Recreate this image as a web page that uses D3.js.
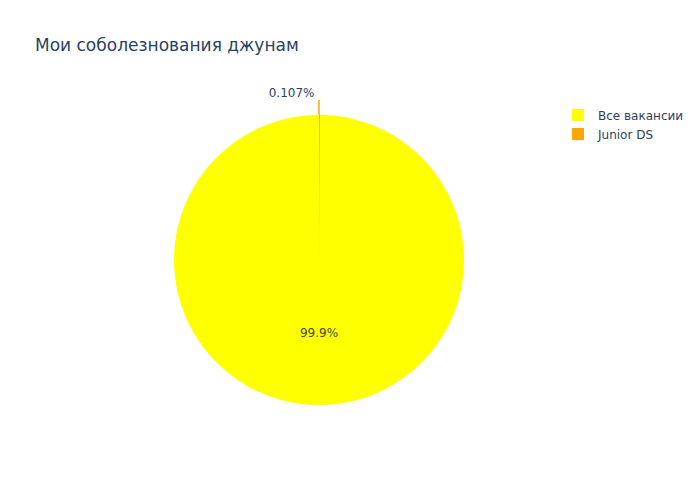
<!DOCTYPE html>
<html><head><meta charset="utf-8">
<script src="https://cdn.jsdelivr.net/npm/d3@7"></script>
<style>body{margin:0;background:#fff}svg{display:block}</style>
</head><body>
<svg id="c" width="700" height="500"></svg>
<script>
const title = "Мои соболезнования джунам";
const categories = ["Все вакансии", "Junior DS"];
const values = [933, 1];
const colors = ["#ffff00", "#ffa500"];

const svg = d3.select("#c");
const font = "'DejaVu Sans', Verdana, sans-serif";
const cx = 319, cy = 260, r = 145;
const total = d3.sum(values);

svg.append("text").attr("x", 35).attr("y", 51).text(title)
  .attr("font-family", font).attr("font-size", 17).attr("fill", "#2a3f5f");

// plotly: start at top, counterclockwise
const pie = d3.pie().sort(null).value(d => d)
  .startAngle(0).endAngle(-2 * Math.PI);
const arcs = pie(values);
const arc = d3.arc().innerRadius(0).outerRadius(r);
const g = svg.append("g").attr("transform", `translate(${cx},${cy})`);
g.selectAll("path").data(arcs).join("path")
  .attr("d", arc).attr("fill", (d, i) => colors[i]);

const fmt = v => {
  const p = v / total * 100;
  return (p >= 1 ? d3.format(".3~")(p) : d3.format(".3~r")(p)) + "%";
};
arcs.forEach((a, i) => {
  const mid = (a.startAngle + a.endAngle) / 2;
  const frac = values[i] / total;
  if (frac > 0.05) {
    g.append("text").attr("x", 0).attr("y", 77).attr("text-anchor", "middle")
      .attr("font-family", font).attr("font-size", 12).attr("fill", "#444")
      .text(fmt(values[i]));
  } else {
    const x0 = r * Math.sin(mid), y0 = -r * Math.cos(mid);
    g.append("line").attr("x1", x0 - 0.5).attr("y1", y0).attr("x2", x0 - 0.5).attr("y2", y0 - 15)
      .attr("stroke", colors[i]).attr("stroke-width", 1.5);
    g.append("text").attr("x", x0 - 5).attr("y", y0 - 18).attr("text-anchor", "end")
      .attr("font-family", font).attr("font-size", 12).attr("fill", "#2a3f5f")
      .text(fmt(values[i]));
  }
});

const lg = svg.append("g").attr("transform", "translate(572,109)");
categories.forEach((c, i) => {
  lg.append("rect").attr("x", 0).attr("y", i * 19).attr("width", 12).attr("height", 12)
    .attr("fill", colors[i]);
  lg.append("text").attr("x", 26).attr("y", i * 19 + 10.5).text(c)
    .attr("font-family", font).attr("font-size", 12).attr("fill", "#2a3f5f");
});
</script>
</body></html>
